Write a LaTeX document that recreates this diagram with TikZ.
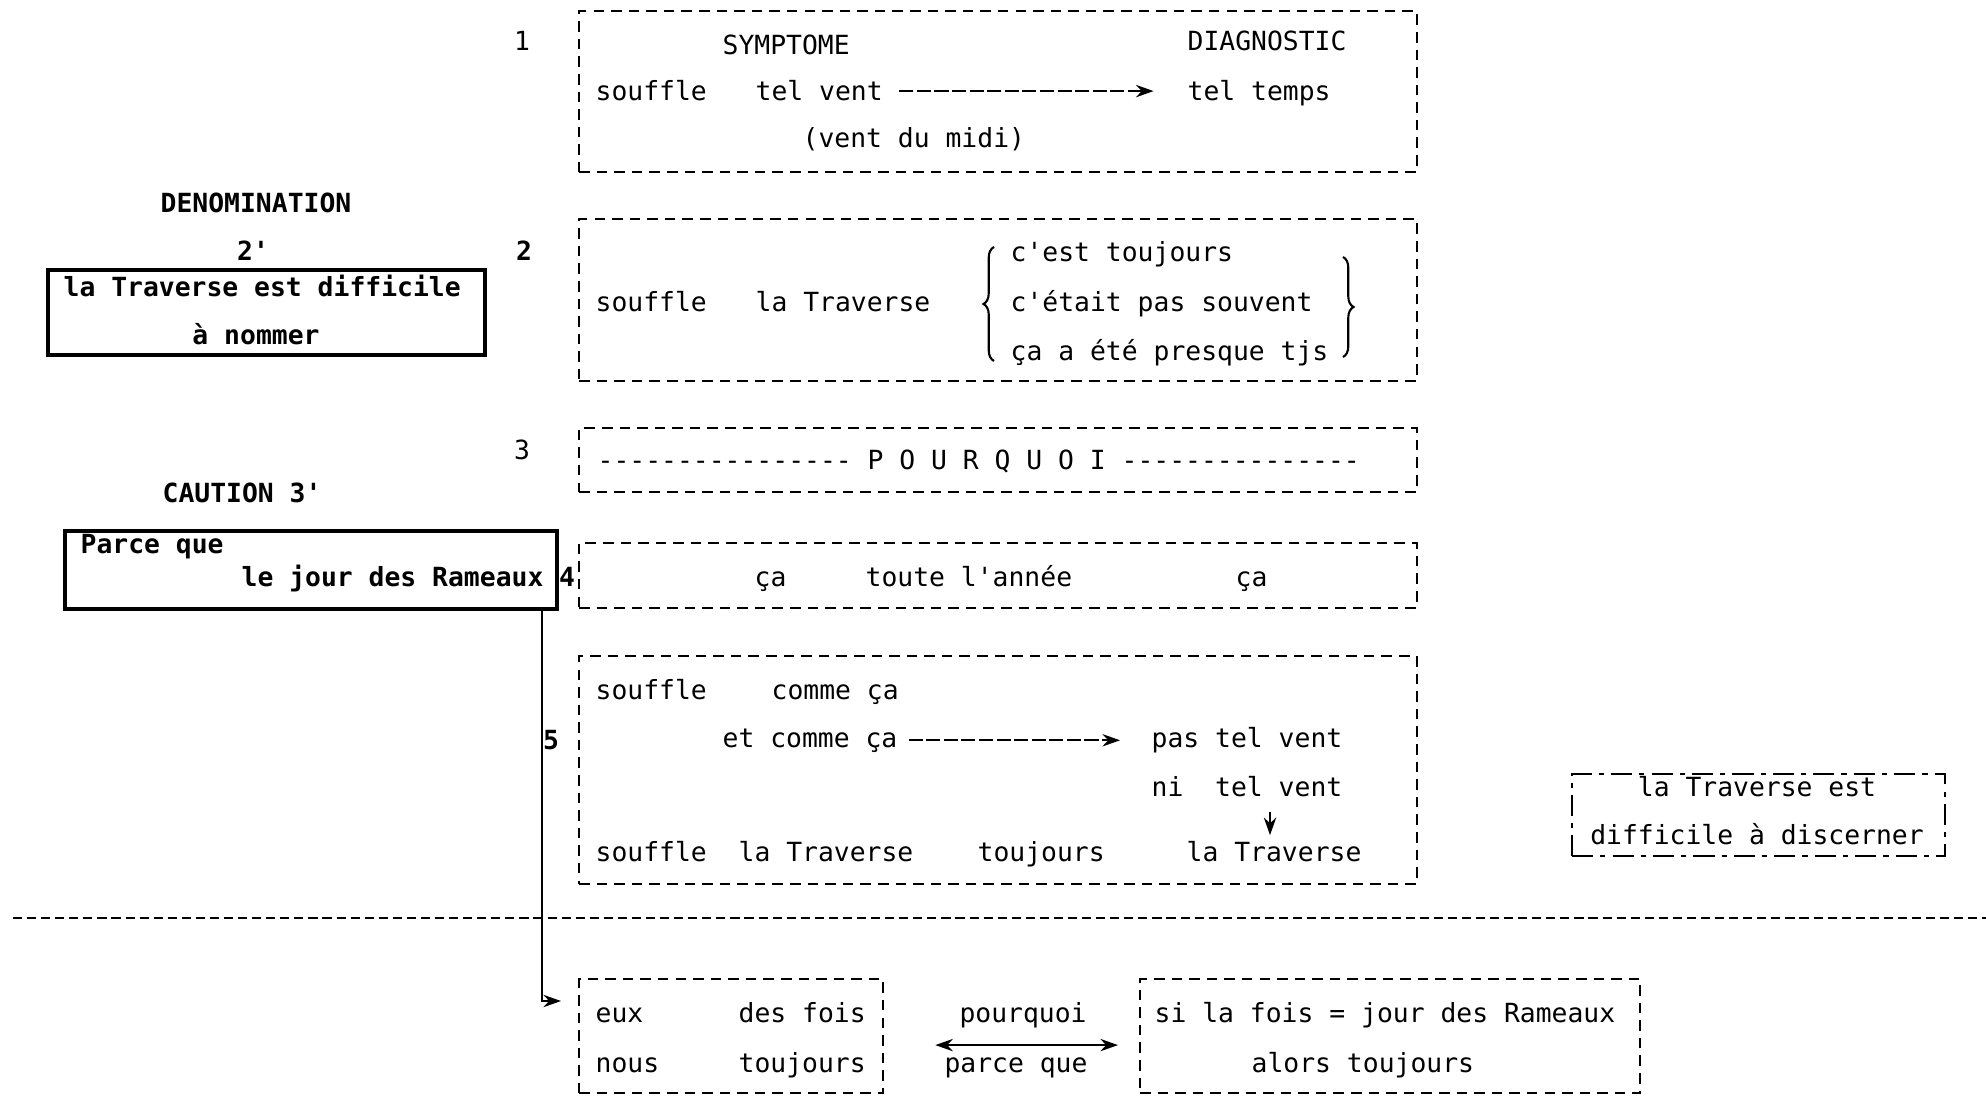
\documentclass[tikz,border=0pt]{standalone}
\usepackage{fontspec}
\setmainfont{DejaVu Sans Mono}[Ligatures=TeXOff]
\usetikzlibrary{positioning, arrows.meta, calc, decorations.pathreplacing}

\begin{document}
\begin{tikzpicture}[x=0.01cm, y=-0.01cm,
    every node/.style={font=\fontsize{7.5}{9}\selectfont, inner sep=0pt},
    heavy/.style={font=\fontsize{7.5}{9}\selectfont\bfseries},
    txt/.style={anchor=base west},
    mid/.style={anchor=base},
    panel/.style={draw, densely dashed, line width=0.6pt, anchor=north west},
    solidpanel/.style={draw, line width=1pt, anchor=north west},
    dashdot/.style={draw, dash pattern=on 6pt off 2pt on 1.5pt off 2pt, line width=0.6pt, anchor=north west},
    >={Stealth[length=5pt, width=3.5pt]},
    arr/.style={->, line width=0.6pt},
    brc/.style={decorate, decoration={brace, amplitude=3pt}, line width=0.6pt},
    ]
    \useasboundingbox (0,0) rectangle (1986,1101);

    % 1 : symptome / diagnostic
    \node[panel, minimum width=8.37cm, minimum height=1.61cm] (p1) at (578,10) {};
    \node[mid] (n1) at (522,51) {1};
    \node[txt] (sym) at (722,55) {SYMPTOME};
    \node[txt] (diag) at (1187,51) {DIAGNOSTIC};
    \node[txt] (souf1) at (595,101) {souffle};
    \node[txt] (telvent) at (755,101) {tel vent};
    \node[txt] (teltemps) at (1187,101) {tel temps};
    \node[txt] (midi) at (802,148) {(vent du midi)};
    \draw[arr, dash pattern=on 4pt off 1pt, shorten <=4.5pt, shorten >=9.5pt]
        (telvent.east) -- (telvent.east -| teltemps.west);

    % 2' : denomination
    \node[mid, heavy] (denom) at (256,213) {DENOMINATION};
    \node[mid, heavy] (n2b) at (253,261) {2'};
    \node[solidpanel, minimum width=4.37cm, minimum height=0.85cm] (nomer) at (46,268) {};
    \node[txt, heavy] (diff) at (63,297) {la Traverse est difficile};
    \node[mid, heavy] (nommer) at (256,345) {à nommer};

    % 2
    \node[panel, minimum width=8.37cm, minimum height=1.62cm] (p2) at (578,218) {};
    \node[mid, heavy] (n2) at (524,261) {2};
    \node[txt] (souf2) at (595,312) {souffle};
    \node[txt] (trav2) at (755,312) {la Traverse};
    \node[txt] (tjs1) at (1010,262) {c'est toujours};
    \node[txt] (tjs2) at (1010,312) {c'était pas souvent};
    \node[txt] (tjs3) at (1010,361) {ça a été presque tjs};
    \draw[brc] (994,361) -- (994,247);
    \draw[brc] (1343,257) -- (1343,357);

    % 3 : pourquoi
    \node[panel, minimum width=8.37cm, minimum height=0.64cm] (p3) at (578,427) {};
    \node[mid] (n3) at (522,460) {3};
    \node[txt] (pq) at (597,470) {---------------- P O U R Q U O I ---------------};

    % 3' : caution
    \node[txt, heavy] (cautxt) at (162,503) {CAUTION 3'};
    \node[solidpanel, minimum width=4.92cm, minimum height=0.78cm] (cau) at (63,529) {};
    \node[txt, heavy] (parce) at (80,554) {Parce que};
    \node[txt, heavy] (rameaux) at (241,587) {le jour des Rameaux};

    % 4
    \node[panel, minimum width=8.37cm, minimum height=0.65cm] (p4) at (578,542) {};
    \node[mid, heavy] (n4) at (567,587) {4};
    \node[txt] (ca1) at (754,587) {ça};
    \node[txt] (annee) at (865,587) {toute l'année};
    \node[txt] (ca2) at (1235,587) {ça};

    % 5
    \node[panel, minimum width=8.37cm, minimum height=2.28cm] (p5) at (578,655) {};
    \node[mid, heavy] (n5) at (551,749) {5};
    \node[txt] (souf5) at (595,699) {souffle};
    \node[txt] (comme1) at (771,699) {comme ça};
    \node[txt] (comme2) at (722,747) {et comme ça};
    \node[txt] (pastel) at (1151,747) {pas tel vent};
    \node[txt] (nitel) at (1151,796) {ni\ \ tel vent};
    \node[txt] (souf6) at (595,861) {souffle};
    \node[txt] (trav5) at (738,861) {la Traverse};
    \node[txt] (tjs5) at (977,861) {toujours};
    \node[txt] (trav6) at (1186,861) {la Traverse};
    \draw[arr, dash pattern=on 4pt off 1pt, shorten <=3pt, shorten >=8.8pt]
        (comme2.east) -- (comme2.east -| pastel.west);
    \coordinate (dnx) at (1270,0);
    \draw[arr, shorten <=4.3pt, shorten >=1.4pt] (dnx |- nitel.south) -- (dnx |- trav6.north);

    % discerner
    \node[dashdot, minimum width=3.73cm, minimum height=0.82cm] (disc) at (1571,773) {};
    \node[mid] (disc1) at (1757,796) {la Traverse est};
    \node[mid] (disc2) at (1757,844) {difficile à discerner};

    % separation
    \draw[dash pattern=on 2.6pt off 1.4pt, line width=0.6pt] (13,918) -- (1986,918);

    % bottom
    \node[panel, minimum width=3.04cm, minimum height=1.14cm] (pairs) at (578,978) {};
    \node[txt] (eux) at (595,1022) {eux};
    \node[txt] (fois) at (738,1022) {des fois};
    \node[txt] (nous) at (595,1072) {nous};
    \node[txt] (tjs6) at (738,1072) {toujours};
    \node[panel, minimum width=5cm, minimum height=1.14cm] (cond) at (1139,978) {};
    \node[txt] (si) at (1154,1022) {si la fois = jour des Rameaux};
    \node[txt] (alors) at (1251,1072) {alors toujours};
    \node[mid] (pourq) at (1023,1022) {pourquoi};
    \node[mid] (parceq) at (1016,1072) {parce que};
    \draw[<->, line width=0.6pt] ($(pairs.east)+(51,9)$) -- ($(cond.west)+(-21,9)$);

    \draw[arr] ($(cau.south east)+(-17,0)$) |- ($(pairs.north west)+(-17,23)$);
\end{tikzpicture}
\end{document}
